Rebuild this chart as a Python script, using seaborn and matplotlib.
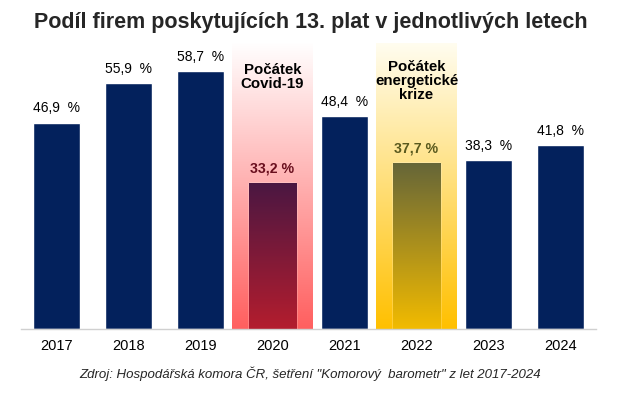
import numpy as np
import pandas as pd
import matplotlib
matplotlib.use('Agg')
import matplotlib.pyplot as plt
from matplotlib.colors import LinearSegmentedColormap
import seaborn as sns

years = ['2017', '2018', '2019', '2020', '2021', '2022', '2023', '2024']
shares = [46.9, 55.9, 58.7, 33.2, 48.4, 37.7, 38.3, 41.8]
events = {'2020': 'Počátek\nCovid-19', '2022': 'Počátek\nenergetické\nkrize'}
title = 'Podíl firem poskytujících 13. plat v jednotlivých letech'
source = 'Zdroj: Hospodářská komora ČR, šetření "Komorový  barometr" z let 2017-2024'

navy = '#03215c'
# gradient colours (bottom, top) for highlighted bars and their background bands
bar_grad = {'2020': ('#b41d2e', '#4a1742'), '2022': ('#f2bb00', '#666638')}
band_grad = {'2020': ('#ff5f5f', '#ffffff'), '2022': ('#ffc000', '#fffdf0')}
label_col = {'2020': '#6a0f1e', '2022': '#5a5a1e'}
event_top = {'2020': 4.6, '2022': 3.9}  # offset below axis top

df = pd.DataFrame({'year': years, 'share': shares})

sns.set_theme(style='white')
plt.rcParams['font.family'] = ['Liberation Sans', 'DejaVu Sans']

fig = plt.figure(figsize=(6.22, 3.93), dpi=100)
ax = fig.add_axes([0.033, 0.163, 0.926, 0.728])

sns.barplot(data=df, x='year', y='share', hue='year', palette=[navy] * len(years),
            legend=False, width=0.655, saturation=1, ax=ax, zorder=3)

ymax = 65
ax.set_ylim(0, ymax)
ax.set_xlim(-0.5, len(years) - 0.5)

grad = np.linspace(0, 1, 256).reshape(-1, 1)
for i, (yr, val) in enumerate(zip(years, shares)):
    patch = ax.patches[i]
    if yr in events:
        # background band
        cm = LinearSegmentedColormap.from_list('band' + yr, band_grad[yr])
        ax.imshow(grad, cmap=cm, extent=[i - 0.5625, i + 0.5625, 0, ymax],
                  aspect='auto', origin='lower', zorder=1)
        # gradient bar clipped to the bar shape
        cm2 = LinearSegmentedColormap.from_list('bar' + yr, bar_grad[yr])
        x0 = patch.get_x()
        im = ax.imshow(grad, cmap=cm2, extent=[x0, x0 + patch.get_width(), 0, val],
                       aspect='auto', origin='lower', zorder=4)
        im.set_clip_path(patch)
        patch.set_facecolor('none')
        ax.text(i, val + 1.6, f'{val:.1f} %'.replace('.', ','), ha='center', va='bottom',
                fontsize=10.2, fontweight='bold', color=label_col[yr], zorder=5)
        ax.text(i, ymax - event_top[yr], events[yr], ha='center', va='top',
                fontsize=10.8, fontweight='bold', color='black', linespacing=1.0, zorder=5)
    else:
        ax.text(i, val + 1.6, f'{val:.1f}  %'.replace('.', ','), ha='center', va='bottom',
                fontsize=10, color='black', zorder=5)

ax.set_xlabel('')
ax.set_ylabel('')
ax.set_yticks([])
ax.tick_params(axis='x', length=0, labelsize=10.5, pad=7, colors='black')
sns.despine(ax=ax, left=True)
ax.spines['bottom'].set_color('#d0d0d0')
ax.spines['bottom'].set_linewidth(1)
ax.spines['bottom'].set_zorder(6)

fig.text(0.499, 0.943, title, ha='center', va='center', fontsize=15.5, fontweight='bold')
fig.text(0.498, 0.048, source, ha='center', va='center', fontsize=9.5, style='italic')

fig.savefig('out.png', dpi=100)
